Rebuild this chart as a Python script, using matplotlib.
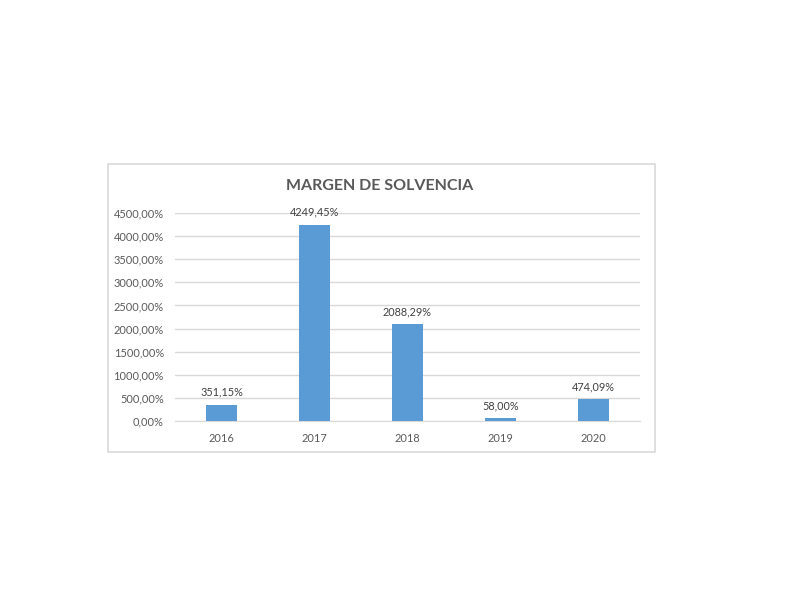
import matplotlib
matplotlib.use("Agg")
import matplotlib.pyplot as plt
from matplotlib.patches import Rectangle

# data
years = ['2016', '2017', '2018', '2019', '2020']
margen = [351.15, 4249.45, 2088.29, 58.00, 474.09]
yticks = [0, 500, 1000, 1500, 2000, 2500, 3000, 3500, 4000, 4500]

plt.rcParams['font.family'] = ['Lato', 'DejaVu Sans']
gray = '#595959'

fig = plt.figure(figsize=(7.86, 5.90), dpi=100)
fig.patch.set_facecolor('white')

# chart frame
fig.patches.append(Rectangle((108/786, 1-452/590), 547/786, 288/590,
                             transform=fig.transFigure, fill=False,
                             edgecolor='#D9D9D9', linewidth=1.2))

ax = fig.add_axes([175/786, 1-421/590, 465/786, 208/590])
x = range(len(years))
bars = ax.bar(x, margen, width=0.33, color='#5B9BD5', zorder=3)

for i, v in enumerate(margen):
    lbl = f"{v:.2f}".replace('.', ',') + '%'
    ax.annotate(lbl, (i, v), xytext=(0, 5), textcoords='offset points',
                ha='center', va='bottom', fontsize=7.8, color='#404040')

ax.set_xlim(-0.5, 4.5)
ax.set_ylim(0, 4500)
ax.set_yticks(yticks)
ax.set_yticklabels([f"{t},00%" for t in yticks])
ax.set_xticks(list(x))
ax.set_xticklabels(years)
ax.tick_params(axis='both', length=0, labelsize=7.9, colors=gray)
ax.tick_params(axis='x', pad=9)
ax.tick_params(axis='y', pad=8)
ax.grid(axis='y', color='#D9D9D9', linewidth=1, zorder=0)
for s in ['top', 'right', 'left']:
    ax.spines[s].set_visible(False)
ax.spines['bottom'].set_color('#D9D9D9')

fig.text(380/786, 1-186/590, 'MARGEN DE SOLVENCIA', ha='center', va='center',
         fontsize=11.5, fontweight='bold', color=gray)

fig.savefig('out.png', dpi=100)
